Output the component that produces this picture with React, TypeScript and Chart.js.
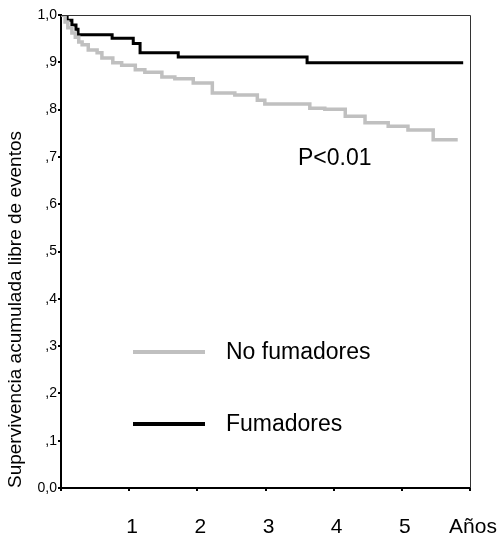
import React, { useEffect, useRef } from 'react';
import { Chart, registerables } from 'chart.js';

Chart.register(...registerables);

// Kaplan-Meier curves: time (years) of each drop and survival after it
const noFumTimes = [0, 0.06, 0.10, 0.16, 0.21, 0.26, 0.31, 0.40, 0.53, 0.60, 0.76, 0.89, 1.09, 1.23, 1.48, 1.67, 1.94, 2.22, 2.55, 2.88, 2.99, 3.65, 3.87, 4.17, 4.46, 4.80, 5.09, 5.46, 5.82];
const noFumSurv = [1.0, 0.985, 0.973, 0.962, 0.953, 0.943, 0.937, 0.926, 0.920, 0.909, 0.899, 0.894, 0.884, 0.879, 0.869, 0.865, 0.856, 0.835, 0.831, 0.820, 0.812, 0.803, 0.801, 0.786, 0.772, 0.765, 0.757, 0.736, 0.736];

const fumTimes = [0, 0.09, 0.16, 0.22, 0.25, 0.75, 1.06, 1.16, 1.72, 3.61, 5.90];
const fumSurv = [1.0, 0.989, 0.979, 0.970, 0.958, 0.951, 0.940, 0.920, 0.911, 0.899, 0.899];

const yTickLabels = ['0,0', ',1', ',2', ',3', ',4', ',5', ',6', ',7', ',8', ',9', '1,0'];
const xTickLabels = ['', '1', '2', '3', '4', '5', 'Años'];
const seriesNames = ['No fumadores', 'Fumadores'];
const pValueText = 'P<0.01';
const yTitle = 'Supervivencia acumulada libre de eventos';

const GREY = 'rgb(192,192,192)';
const FONT = '"Liberation Sans", Arial, sans-serif';

const toPoints = (t: number[], s: number[]) => t.map((x, i) => ({ x, y: s[i] }));

const overlay = {
  id: 'overlay',
  beforeDraw(chart: any) {
    const { ctx, width, height } = chart;
    ctx.save();
    ctx.fillStyle = '#fff';
    ctx.fillRect(0, 0, width, height);
    ctx.restore();
  },
  afterDraw(chart: any) {
    const { ctx, chartArea: a } = chart;
    ctx.save();
    // top and right frame
    ctx.strokeStyle = '#333';
    ctx.lineWidth = 1;
    ctx.beginPath();
    ctx.moveTo(a.left, a.top + 0.5);
    ctx.lineTo(a.right + 0.5, a.top + 0.5);
    ctx.lineTo(a.right + 0.5, a.bottom);
    ctx.stroke();

    // legend
    const items = [
      { label: seriesNames[0], color: GREY, y: a.top + 337 },
      { label: seriesNames[1], color: '#000', y: a.top + 409 },
    ];
    ctx.font = `23px ${FONT}`;
    ctx.textBaseline = 'middle';
    ctx.textAlign = 'left';
    items.forEach((it) => {
      ctx.strokeStyle = it.color;
      ctx.lineWidth = 4;
      ctx.beginPath();
      ctx.moveTo(a.left + 72, it.y);
      ctx.lineTo(a.left + 144, it.y);
      ctx.stroke();
      ctx.fillStyle = '#000';
      ctx.fillText(it.label, a.left + 165, it.y + 1);
    });

    // p value
    ctx.fillText(pValueText, a.left + 237, a.top + 144);
    ctx.restore();
  },
};

export default function App() {
  const ref = useRef<HTMLCanvasElement | null>(null);

  useEffect(() => {
    if (!ref.current) return;
    const chart = new Chart(ref.current, {
      type: 'line',
      data: {
        datasets: [
          {
            label: seriesNames[0],
            data: toPoints(noFumTimes, noFumSurv),
            borderColor: GREY,
            borderWidth: 3.5,
            stepped: 'before',
            pointRadius: 0,
            fill: false,
          },
          {
            label: seriesNames[1],
            data: toPoints(fumTimes, fumSurv),
            borderColor: '#000',
            borderWidth: 3,
            stepped: 'before',
            pointRadius: 0,
            fill: false,
          },
        ],
      },
      options: {
        animation: false,
        responsive: false,
        maintainAspectRatio: false,
        devicePixelRatio: 1,
        layout: { padding: { left: 0, top: 15, right: 29, bottom: 0 } },
        plugins: {
          legend: { display: false },
          tooltip: { enabled: false },
        },
        scales: {
          x: {
            type: 'linear',
            min: 0,
            max: 6,
            afterFit: (s: any) => { s.height = 49; s.paddingLeft = 0; s.paddingRight = 0; },
            border: { color: '#000', width: 2 },
            grid: { drawOnChartArea: false, drawTicks: true, tickLength: 3, color: '#000', lineWidth: 2 },
            ticks: {
              stepSize: 1,
              color: '#000',
              padding: 24,
              labelOffset: 3,
              maxRotation: 0,
              autoSkip: false,
              font: { family: FONT, size: 21 },
              callback: (v: any) => xTickLabels[Math.round(Number(v))] ?? '',
            },
          },
          y: {
            type: 'linear',
            min: 0,
            max: 1,
            afterFit: (s: any) => { s.width = 61; s.paddingTop = 0; s.paddingBottom = 0; },
            border: { color: '#000', width: 2 },
            grid: { drawOnChartArea: false, drawTicks: true, tickLength: 3, color: '#000', lineWidth: 2 },
            title: {
              display: true,
              text: yTitle,
              align: 'start',
              color: '#000',
              font: { family: FONT, size: 19 },
              padding: { top: 4, bottom: 0 },
            },
            ticks: {
              stepSize: 0.1,
              color: '#000',
              padding: 1,
              font: { family: FONT, size: 14 },
              callback: (v: any) => yTickLabels[Math.round(Number(v) * 10)] ?? '',
            },
          },
        },
      },
      plugins: [overlay],
    });
    return () => chart.destroy();
  }, []);

  return (
    <div style={{ position: 'absolute', left: 0, top: 0, width: 499, height: 537 }}>
      <canvas ref={ref} width={499} height={537} style={{ display: 'block', width: 499, height: 537 }} />
    </div>
  );
}
